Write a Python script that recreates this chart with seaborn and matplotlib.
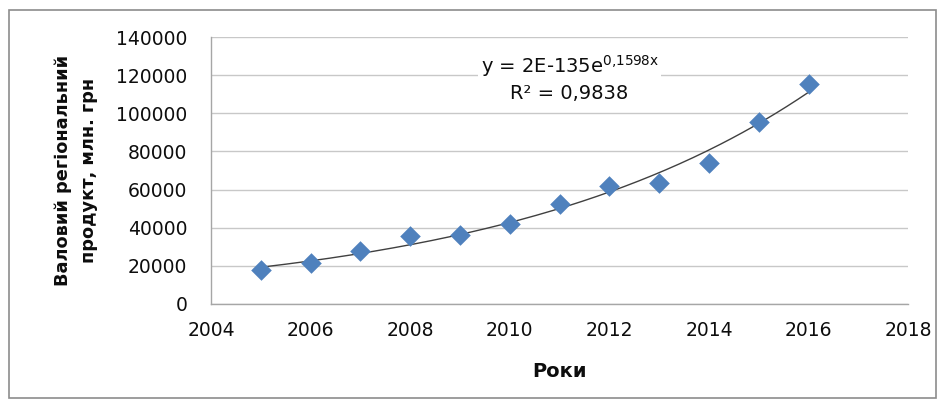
import matplotlib.pyplot as plt
import numpy as np
import seaborn as sns
from matplotlib.patches import Rectangle

years = [2005, 2006, 2007, 2008, 2009, 2010, 2011, 2012, 2013, 2014, 2015, 2016]
grp = [17800, 21500, 27800, 35600, 36200, 42000, 52400, 61900, 63400, 73900, 95400, 115400]

x_ticks = [2004, 2006, 2008, 2010, 2012, 2014, 2016, 2018]
y_ticks = [0, 20000, 40000, 60000, 80000, 100000, 120000, 140000]

sns.set_style('white')
plt.rcParams['font.family'] = ['DejaVu Sans']
plt.rcParams['mathtext.default'] = 'regular'

fig = plt.figure(figsize=(9.45, 4.03), dpi=100)
ax = fig.add_axes([0.2233, 0.2457, 0.7377, 0.6623])

# exponential trend line fitted on the points
b, ln_a = np.polyfit(years, np.log(grp), 1)
xs = np.linspace(years[0], years[-1], 200)
ax.plot(xs, np.exp(ln_a + b * xs), color='#404040', linewidth=1.0, zorder=2)

sns.scatterplot(x=years, y=grp, marker='D', s=110, color='#4F81BD',
                edgecolor='#4F81BD', linewidth=0, ax=ax, zorder=3)

ax.set_xlim(2004, 2018)
ax.set_ylim(0, 140000)
ax.set_xticks(x_ticks)
ax.set_yticks(y_ticks)
ax.tick_params(axis='both', labelsize=13.5, labelcolor='#0d0d0d', width=0.8)
ax.tick_params(axis='x', direction='inout', length=8, color='#a6a6a6', pad=8)
ax.tick_params(axis='y', direction='out', length=5, color='#a6a6a6', pad=12)
ax.grid(axis='y', color='#c8c8c8', linewidth=1.0)
ax.set_axisbelow(True)
for side in ['top', 'right']:
    ax.spines[side].set_visible(False)
for side in ['left', 'bottom']:
    ax.spines[side].set_color('#a6a6a6')
    ax.spines[side].set_linewidth(1.0)

ax.set_xlabel('Роки', fontsize=14, fontweight='bold', labelpad=16, color='#0d0d0d')
ax.set_ylabel('Валовий регіональний\nпродукт, млн. грн', fontsize=12.8,
              fontweight='bold', labelpad=13, linespacing=1.55, color='#0d0d0d')

ax.text(2011.2, 125000, 'y = 2E-135e$^{0{,}1598x}$', fontsize=14,
        ha='center', va='center', zorder=4, color='#0d0d0d',
        bbox=dict(facecolor='white', edgecolor='none', pad=2))
ax.text(2011.2, 110500, 'R² = 0,9838', fontsize=14, ha='center', va='center',
        zorder=4, color='#0d0d0d',
        bbox=dict(facecolor='white', edgecolor='none', pad=2))

fig.patches.append(Rectangle((0.009, 0.012), 0.981, 0.963, transform=fig.transFigure,
                             fill=False, edgecolor='#8c8c8c', linewidth=1.2))

fig.savefig('out.png', dpi=100)
